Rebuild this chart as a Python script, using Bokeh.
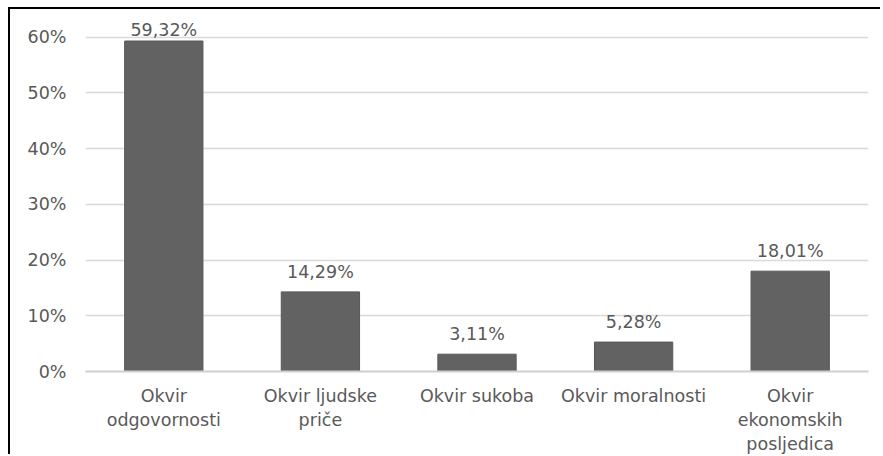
import numpy as np
from bokeh.plotting import figure
from bokeh.models import ColumnDataSource, FixedTicker, NumeralTickFormatter, Range1d
from bokeh.core.properties import value
from bokeh.embed import file_html
from bokeh.resources import INLINE

categories = ["Okvir\nodgovornosti", "Okvir ljudske\npriče", "Okvir sukoba", "Okvir moralnosti", "Okvir\nekonomskih\nposljedica"]
values = [0.5932, 0.1429, 0.0311, 0.0528, 0.1801]
labels = ["59,32%", "14,29%", "3,11%", "5,28%", "18,01%"]
y_ticks = [0, 0.1, 0.2, 0.3, 0.4, 0.5, 0.6]

# data labels sit above the bars, but stay inside the plot area (as in the original)
label_y = np.minimum(np.array(values), y_ticks[-1] - 0.023)

src = ColumnDataSource(dict(cat=categories, val=values, lab=labels, lab_y=label_y))

FONT = "DejaVu Sans"
TXT = "#595959"
FS = "17.5px"

p = figure(x_range=categories, y_range=Range1d(0, 0.630), width=872, height=447,
           output_backend="svg", toolbar_location=None,
           min_border_left=75, min_border_right=14, min_border_top=11, min_border_bottom=83)
p.styles = {"margin-left": "8px", "margin-top": "7px",
            "border-left": "2px solid #000", "border-top": "2px solid #000"}
p.outline_line_color = None
p.background_fill_color = "white"

p.vbar(x="cat", top="val", width=0.5, source=src, fill_color="#626262", line_color="#585858")
p.text(x="cat", y="lab_y", text="lab", source=src, text_align="center", text_baseline="alphabetic",
       y_offset=-20, text_font=value(FONT), text_font_size=FS, text_color=TXT)

p.yaxis.ticker = FixedTicker(ticks=y_ticks)
p.yaxis.formatter = NumeralTickFormatter(format="0%")
p.yaxis.axis_line_color = None
p.yaxis.major_tick_line_color = None
p.yaxis.minor_tick_line_color = None
p.yaxis.major_label_text_font = FONT
p.yaxis.major_label_text_font_size = FS
p.yaxis.major_label_text_color = TXT
p.yaxis.major_label_standoff = 13

p.xaxis.axis_line_color = "#cfcfcf"
p.xaxis.axis_line_width = 2
p.xaxis.major_tick_line_color = None
p.xaxis.minor_tick_line_color = None
p.xaxis.major_label_text_font = FONT
p.xaxis.major_label_text_font_size = FS
p.xaxis.major_label_text_color = TXT
p.xaxis.major_label_standoff = 8
p.xaxis.major_label_text_line_height = 1.2

p.xgrid.grid_line_color = None
p.ygrid.grid_line_color = "#dadada"
p.ygrid.grid_line_width = 1.5

open("out.html", "w").write(file_html(p, INLINE))
